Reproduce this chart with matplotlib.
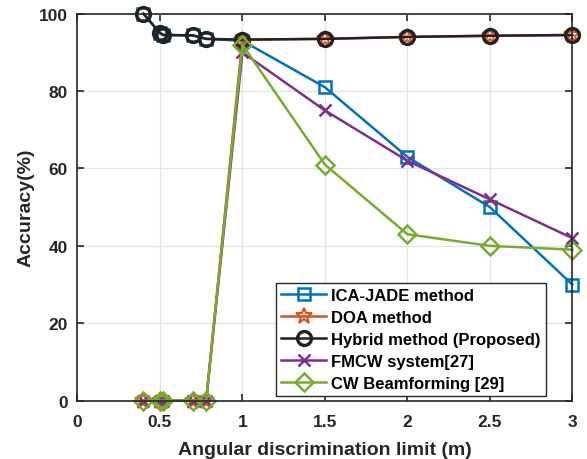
import matplotlib.pyplot as plt

plt.rcParams['font.family'] = ['Liberation Sans', 'DejaVu Sans']
plt.rcParams['font.weight'] = 'bold'

# separation limits (m)
x = [0.4, 0.5, 0.52, 0.7, 0.78, 1, 1.5, 2, 2.5, 3]

ica_jade = [100, 95, 94.5, 94.4, 93.5, 93.0, 81, 63, 50, 30]
doa = [0, 0, 0, 0, 0, 93.3, 93.5, 94.0, 94.3, 94.5]
hybrid = [100, 95, 94.5, 94.4, 93.5, 93.3, 93.5, 94.0, 94.3, 94.5]
fmcw = [0, 0, 0, 0, 0, 90, 75, 62, 52, 42]
cw_bf = [0, 0, 0, 0, 0, 92, 61, 43, 40, 39]

xticks = [0, 0.5, 1, 1.5, 2, 2.5, 3]
yticks = [0, 20, 40, 60, 80, 100]

fig = plt.figure(figsize=(5.87, 4.6), dpi=100)
ax = fig.add_axes([0.132, 0.127, 0.843, 0.841])

lw = 1.8
common = dict(lw=lw, clip_on=False)
ax.plot(x, ica_jade, color='#0072BD', marker='s', ms=8, mfc='none', mew=1.8,
        label='ICA-JADE method', **common)
ax.plot(x, doa, color='#D95319', marker='*', ms=12, mfc='none', mew=1.5,
        label='DOA method', **common)
ax.plot(x, hybrid, color='#222222', marker='o', ms=10, mfc='none', mew=2.4,
        label='Hybrid method (Proposed)', **common)
ax.plot(x, fmcw, color='#7E2F8E', marker='x', ms=8, mew=1.8,
        label='FMCW system[27]', **common)
ax.plot(x, cw_bf, color='#77AC30', marker='D', ms=9, mfc='none', mew=1.8,
        label='CW Beamforming [29]', **common)

ax.set_xlim(0, 3)
ax.set_ylim(0, 100)
ax.set_xticks(xticks)
ax.set_xticklabels(['0', '0.5', '1', '1.5', '2', '2.5', '3'])
ax.set_yticks(yticks)
ax.tick_params(direction='in', labelsize=12.5, width=1.2, length=5, top=True, right=True,
               colors='#262626', pad=7)
ax.tick_params(axis='x', pad=10)
ax.grid(True, color='#e3e3e3', lw=0.9)
ax.set_axisbelow(True)
for s in ax.spines.values():
    s.set_linewidth(1.2)
    s.set_color('#262626')

ax.set_xlabel('Angular discrimination limit (m)', fontsize=14, fontweight='bold',
              color='#262626', labelpad=8)
ax.set_ylabel('Accuracy(%)', fontsize=14, fontweight='bold', color='#262626', labelpad=3)

leg = ax.legend(loc='lower right', bbox_to_anchor=(0.946, 0.013), fontsize=12,
                frameon=True, fancybox=False, edgecolor='#262626', borderaxespad=0,
                handlelength=2.7, handletextpad=0.3, labelspacing=0.42, borderpad=0.3,
                framealpha=1)
leg.get_frame().set_linewidth(1.0)

fig.savefig('out.png', dpi=100)
